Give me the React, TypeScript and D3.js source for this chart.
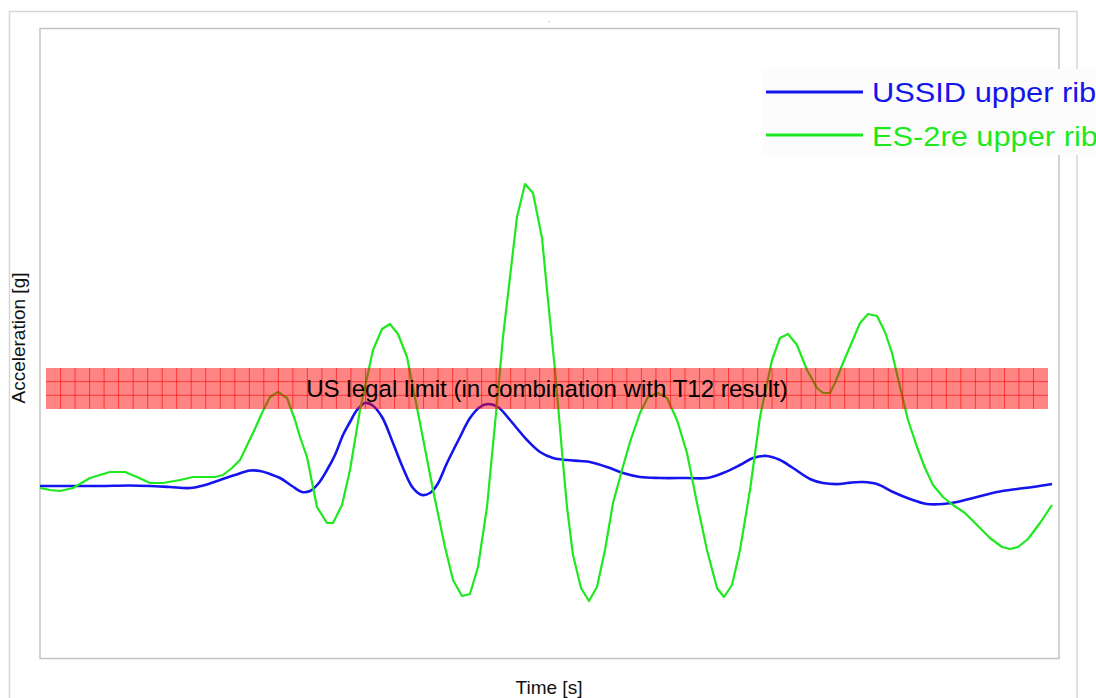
import React from "react";
import * as d3 from "d3";

// Rib acceleration traces: [time in ms, acceleration in g]
const ussidUpperRib: [number, number][] = [
  [0, 0.4], [3, 0.4], [6, 0.4], [9, 0.5], [11, 0.4], [13, 0.2], [15, 0], [16.5, 0.6],
  [18, 1.6], [19.5, 2.6], [21, 3.5], [22, 3.4], [23, 2.8], [24, 2.0], [25.2, 0.4],
  [26.2, -0.8], [27, -0.6], [27.8, 0.8], [28.7, 3.6], [29.5, 6.6], [30.3, 10.6],
  [31, 13.2], [31.7, 15.6], [32.5, 17.0], [33.2, 16.6], [34.2, 14.2], [35.3, 9.0],
  [36.3, 4.0], [37.3, 0], [38.2, -1.4], [39, -1.0], [39.7, 0.6], [40.7, 5.0],
  [42, 10.2], [43, 14.0], [44, 16.2], [44.8, 16.8], [45.8, 16.2], [47, 13.6],
  [48.7, 9.6], [50, 7.2], [51.3, 6.0], [52.7, 5.6], [54, 5.4], [55, 5.2], [56.7, 4.2],
  [58.3, 3.0], [60, 2.2], [62, 2.0], [64.7, 2.0], [66.7, 2.0], [68.3, 3.0], [70, 4.6],
  [71.3, 6.0], [72.7, 6.4], [74, 5.6], [75.3, 4.0], [77, 1.8], [78.3, 1.0], [80, 0.8],
  [80.7, 1.0], [82.3, 1.2], [83.7, 0.8], [85.3, -0.8], [87, -2.2], [88.7, -3.2],
  [90.3, -3.2], [91.7, -2.8], [93.7, -1.8], [95.7, -0.8], [97.7, -0.2], [99.3, 0.2],
  [101.2, 0.8],
];

const es2reUpperRib: [number, number][] = [
  [0, 0], [1, -0.4], [2, -0.6], [3.3, 0], [5, 2.0], [7, 3.2], [8.5, 3.2], [9.7, 2.2],
  [11, 1.0], [12.3, 1.0], [14, 1.6], [15.3, 2.2], [17.5, 2.2], [18.3, 2.6], [19.2, 4.0],
  [20, 5.6], [21.3, 11.0], [22.2, 15.0], [23, 18.2], [23.8, 19.2], [24.7, 18.0],
  [25.5, 13.6], [26, 10.2], [26.7, 6.2], [27.7, -3.8], [28.7, -7.0], [29.3, -7.0],
  [30.2, -3.4], [31, 3.6], [32, 15.6], [33.3, 27.6], [34.2, 31.8], [35, 32.8],
  [35.8, 30.8], [36.7, 26.2], [38, 13.0], [39.3, -0.4], [40.5, -11.8], [41.3, -18.4],
  [42.2, -21.6], [43, -21.2], [43.8, -15.8], [44.7, -3.8], [45.7, 17.0], [46.3, 30.2],
  [47, 42.2], [47.7, 54.2], [48.5, 60.8], [49.3, 59.0], [50.2, 50.0], [50.8, 37.6],
  [51.5, 23.6], [52.3, 5.0], [52.7, -3.8], [53.3, -13.4], [54.1, -20.0], [54.9, -22.6],
  [55.7, -19.8], [56.5, -12.4], [57.3, -3.0], [58.2, 3.6], [59, 9.2], [60, 15.0],
  [60.8, 18.2], [61.8, 19.0], [62.7, 18.0], [63.7, 13.6], [64.7, 7.0], [65.7, -3.0],
  [66.7, -12.4], [67.7, -20.0], [68.4, -21.8], [69.2, -19.4], [70, -12.4], [71, -0.4],
  [72, 14.2], [73.2, 25.6], [74, 30.0], [74.8, 30.8], [75.7, 28.6], [76.7, 23.6],
  [77.7, 20.0], [78.3, 19.0], [79, 19.0], [79.5, 21.0], [80.3, 25.0], [81.2, 29.2],
  [82, 33.0], [82.8, 34.8], [83.7, 34.4], [84.5, 31.2], [85.2, 27.0], [86, 20.2],
  [86.8, 13.6], [87.7, 8.2], [88.5, 4.0], [89.3, 0.6], [90.3, -1.8], [91.3, -3.4],
  [92.5, -5.0], [93.7, -7.4], [95, -10.0], [96.2, -11.8], [97, -12.2], [97.8, -11.8],
  [98.8, -10.2], [100, -7.0], [101.2, -3.4],
];

// Legal limit band (g) and its time span (ms)
const limitBand = { low: 15.8, high: 24.0 };
const limitSpan = { start: 0.6, end: 100.8 };
const limitGrid = { columns: 69, rows: 3 };

const seriesNames = ["USSID upper rib", "ES-2re upper rib"];
const seriesColors = ["#1414ee", "#1ee81e"];

const limitLabel = "US legal limit (in combination with T12 result)";
const xTitle = "Time [s]";
const yTitle = "Acceleration [g]";

const W = 1096;
const H = 698;
const plot = { left: 40, top: 28.5, right: 1059, bottom: 658.5 };
const FONT = "'Liberation Sans', Arial, sans-serif";

export default function App() {
  const x = d3.scaleLinear().domain([0, 101.9]).range([plot.left, plot.right]);
  const y = d3.scaleLinear().domain([-34, 92]).range([658, 28]);

  const smoothLine = d3
    .line<[number, number]>()
    .x((d) => x(d[0]))
    .y((d) => y(d[1]))
    .curve(d3.curveCatmullRom);
  const straightLine = d3
    .line<[number, number]>()
    .x((d) => x(d[0]))
    .y((d) => y(d[1]));

  const bx0 = x(limitSpan.start);
  const bx1 = x(limitSpan.end);
  const by0 = y(limitBand.high);
  const by1 = y(limitBand.low);
  const colX = d3.range(1, limitGrid.columns).map((i) => bx0 + ((bx1 - bx0) * i) / limitGrid.columns);
  const rowY = d3.range(1, limitGrid.rows).map((i) => by0 + ((by1 - by0) * i) / limitGrid.rows);

  return (
    <svg
      width={W}
      height={H}
      style={{ position: "absolute", left: 0, top: 0, background: "#fff" }}
      fontFamily={FONT}
    >
      {/* outer frame */}
      <rect x={9.5} y={11.5} width={1067.5} height={720} fill="none" stroke="#d6d6d6" strokeWidth={1.5} />
      <text x={549} y={23} fontSize={8} fill="#bbb" textAnchor="middle">-</text>

      {/* plot frame */}
      <rect
        x={plot.left}
        y={plot.top}
        width={plot.right - plot.left}
        height={plot.bottom - plot.top}
        fill="#fff"
        stroke="#c4c4c4"
        strokeWidth={1.5}
      />

      {/* traces */}
      <path d={smoothLine(ussidUpperRib) ?? ""} fill="none" stroke={seriesColors[0]} strokeWidth={2.6} strokeLinejoin="round" />
      <path d={straightLine(es2reUpperRib) ?? ""} fill="none" stroke={seriesColors[1]} strokeWidth={2.2} strokeLinejoin="round" />

      {/* legal limit band */}
      <g>
        <rect x={bx0} y={by0} width={bx1 - bx0} height={by1 - by0} fill="#ff0000" fillOpacity={0.48} />
        {colX.map((cx, i) => (
          <line key={"c" + i} x1={cx} x2={cx} y1={by0} y2={by1} stroke="#ff0000" strokeOpacity={0.6} strokeWidth={1} />
        ))}
        {rowY.map((ry, i) => (
          <line key={"r" + i} x1={bx0} x2={bx1} y1={ry} y2={ry} stroke="#ff0000" strokeOpacity={0.6} strokeWidth={1} />
        ))}
        <text x={(bx0 + bx1) / 2} y={397} fontSize={24.1} textAnchor="middle" fill="#000">
          {limitLabel}
        </text>
      </g>

      {/* axis titles */}
      <text x={549} y={694} fontSize={19} textAnchor="middle" fill="#111">{xTitle}</text>
      <text transform="translate(25,338) rotate(-90)" fontSize={19} textAnchor="middle" fill="#111">
        {yTitle}
      </text>

      {/* legend */}
      <g>
        <rect x={763} y={69} width={340} height={86} fill="#fcfcfc" />
        {seriesNames.map((name, i) => (
          <g key={name}>
            <line x1={766} x2={863} y1={92 + i * 43} y2={92 + i * 43} stroke={seriesColors[i]} strokeWidth={3} />
            <text x={872} y={102 + i * 44} fontSize={28} fill={seriesColors[i]} transform={`translate(872,0) scale(1.1,1) translate(-872,0)`}>
              {name}
            </text>
          </g>
        ))}
      </g>
    </svg>
  );
}
